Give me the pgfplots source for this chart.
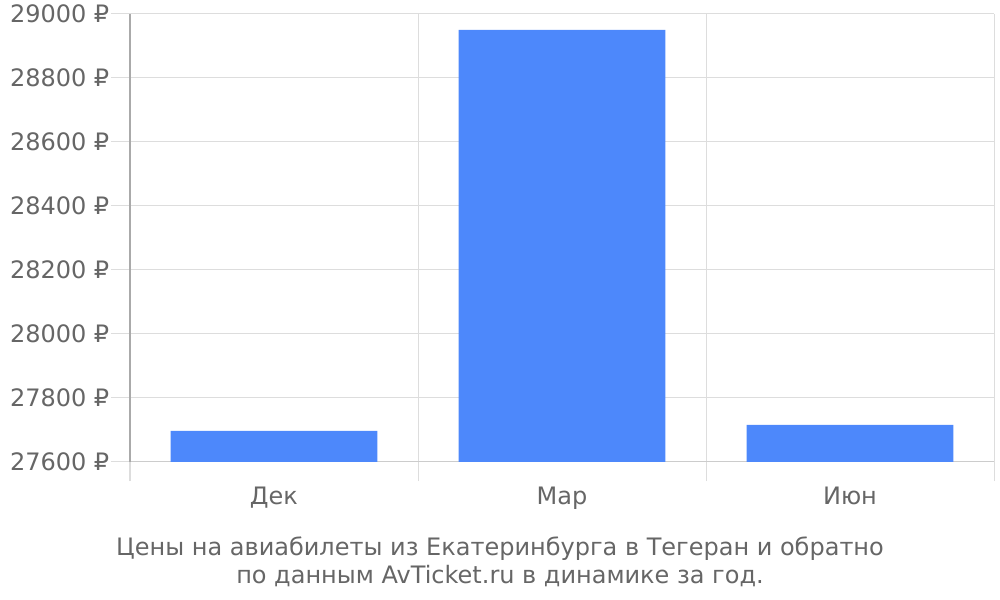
\documentclass[border=0pt]{standalone}
\usepackage{pgfplots}
\pgfplotsset{compat=1.18}
\usepackage{fontspec}
\setmainfont{DejaVu Sans}
\definecolor{barblue}{HTML}{4D88FB}
\definecolor{txt}{HTML}{666666}
\definecolor{gridc}{HTML}{DDDDDD}
\definecolor{axisgray}{HTML}{AAAAAA}
\definecolor{botgray}{HTML}{CCCCCC}
\begin{document}
\begin{tikzpicture}
\useasboundingbox (0,0) rectangle (750pt,450pt);
\begin{axis}[at={(97.5pt,103.5pt)}, anchor=south west, scale only axis,
  width=648pt, height=336pt,
  xmin=0, xmax=3, ymin=27600, ymax=29000,
  ytick={27600,27800,...,29000},
  scaled y ticks=false,
  xtick={0,1,2,3}, xticklabels={},
  extra x ticks={0.5,1.5,2.5},
  extra x tick labels={Дек,Мар,Июн},
  extra x tick style={grid=none, tick style={draw=none}},
  ymajorgrids, xmajorgrids,
  grid style={gridc, line width=0.75pt},
  tick align=outside,
  major tick length=14.5pt,
  xtick style={gridc, line width=0.75pt},
  ytick style={gridc, line width=0.75pt},
  axis x line*=bottom, axis y line*=left,
  x axis line style={botgray, line width=0.75pt},
  y axis line style={axisgray, line width=0.75pt},
  tick label style={font=\fontsize{18}{21}\selectfont, text=txt},
  yticklabel={\pgfmathprintnumber[assume math mode=true,fixed,1000 sep={}]{\tick}~₽},
  yticklabel style={xshift=2.5pt},
  xticklabel style={yshift=-1pt},
  clip=false,
]
\addplot[ybar, bar width=155pt, fill=barblue, draw=none] coordinates {
  (0.5,27697) (1.5,28950) (2.5,27716)
};
\end{axis}
\node[align=center, text=txt, font=\fontsize{18}{21}\selectfont] at (375pt,28.5pt)
  {Цены на авиабилеты из Екатеринбурга в Тегеран и обратно\\по данным AvTicket.ru в динамике за год.};
\end{tikzpicture}
\end{document}
